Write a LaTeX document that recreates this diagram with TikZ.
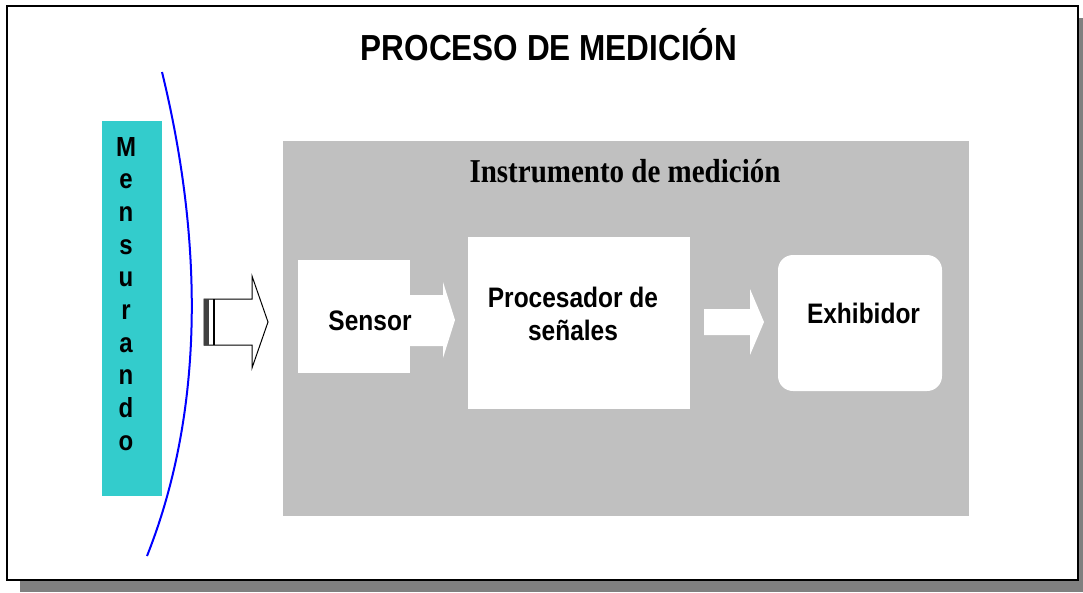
\documentclass[tikz,border=0pt]{standalone}
\usepackage{fontspec}
\setmainfont{Liberation Serif}
\setsansfont{Liberation Sans}
\definecolor{r51g204b204}{RGB}{51,204,204}
\definecolor{r192g192b192}{RGB}{192,192,192}
\definecolor{r128g128b128}{RGB}{128,128,128}
\definecolor{r64g64b64}{RGB}{64,64,64}
\newcommand{\vtall}[1]{\scalebox{1}[1.15]{#1}}
\tikzset{
  boxlabel/.style={font=\sffamily\bfseries\fontsize{24.5}{33}\selectfont, align=center, anchor=base},
  whitearrow/.style={fill=white, draw=none},
}
\begin{document}
\begin{tikzpicture}[x=1pt,y=-1pt]
                        \useasboundingbox (0,0) rectangle (1083,592);
                        
                        % Drawing shadow and frame
                        \fill [r128g128b128] (20,18) rectangle (1083,592);%
                        \draw [line width=1.5pt, fill=white] (7,6) rectangle (1078,580);%
                        
                        % Title
                        \node (title) [anchor=base, font=\sffamily\bfseries\fontsize{31.5}{36}\selectfont] at (549,60) {\vtall{PROCESO DE MEDICIÓN}};%
                        
                        % Drawing instrument area
                        \fill [r192g192b192] (283,141) rectangle (969,516);%
                        \node (instr) [anchor=base, font=\rmfamily\bfseries\fontsize{29}{34}\selectfont] at (625,182) {\vtall{Instrumento de medición}};%
                        
                        % Drawing sensor box
                        \fill [white] (298,260) rectangle (410,373);%
                        
                        % Drawing arrow sensor -> procesador
                        \fill [whitearrow] (405,295) -- (443,295) -- (443,282) -- (455,320) -- (443,358) -- (443,346) -- (405,346) -- cycle;%
                        \node (sensor) [boxlabel] at (370,330) {\vtall{Sensor}};%
                        
                        % Drawing procesador box
                        \fill [white] (468,237) rectangle (690,409);%
                        \node (proc) [boxlabel] at (573,340) {\vtall{Procesador de}\\\vtall{señales}};%
                        
                        % Drawing arrow procesador -> exhibidor
                        \fill [whitearrow] (704,309) -- (750,309) -- (750,289) -- (764,322) -- (750,355) -- (750,335) -- (704,335) -- cycle;%
                        
                        % Drawing exhibidor box
                        \fill [white, rounded corners=15pt] (778,255) rectangle (942,391);%
                        \node (exhib) [boxlabel] at (863.5,323) {\vtall{Exhibidor}};%
                        
                        % Drawing mensurando bar
                        \fill [r51g204b204] (102,121) rectangle (162,496);%
                        \foreach \letter [count=\i from 0] in {M,e,n,s,u,r,a,n,d,o}
                          \node (mens\i) [anchor=base, font=\sffamily\bfseries\fontsize{24}{28}\selectfont] at (126,156+32.67*\i) {\vtall{\letter}};%
                        
                        % Drawing boundary curve
                        \draw [blue, line width=2pt] (162,72) .. controls (203,240) and (205,410) .. (147,556);%
                        
                        % Drawing input arrow
                        \draw [line width=1pt, fill=white] (204,299) -- (252,299) -- (252,276) -- (268,322) -- (252,368) -- (252,345) -- (204,345) -- cycle;%
                        \fill [r64g64b64] (204,299) rectangle (209,345);%
                        \draw [line width=1.5pt] (214,299) -- (214,345);%
                    \end{tikzpicture}
\end{document}
